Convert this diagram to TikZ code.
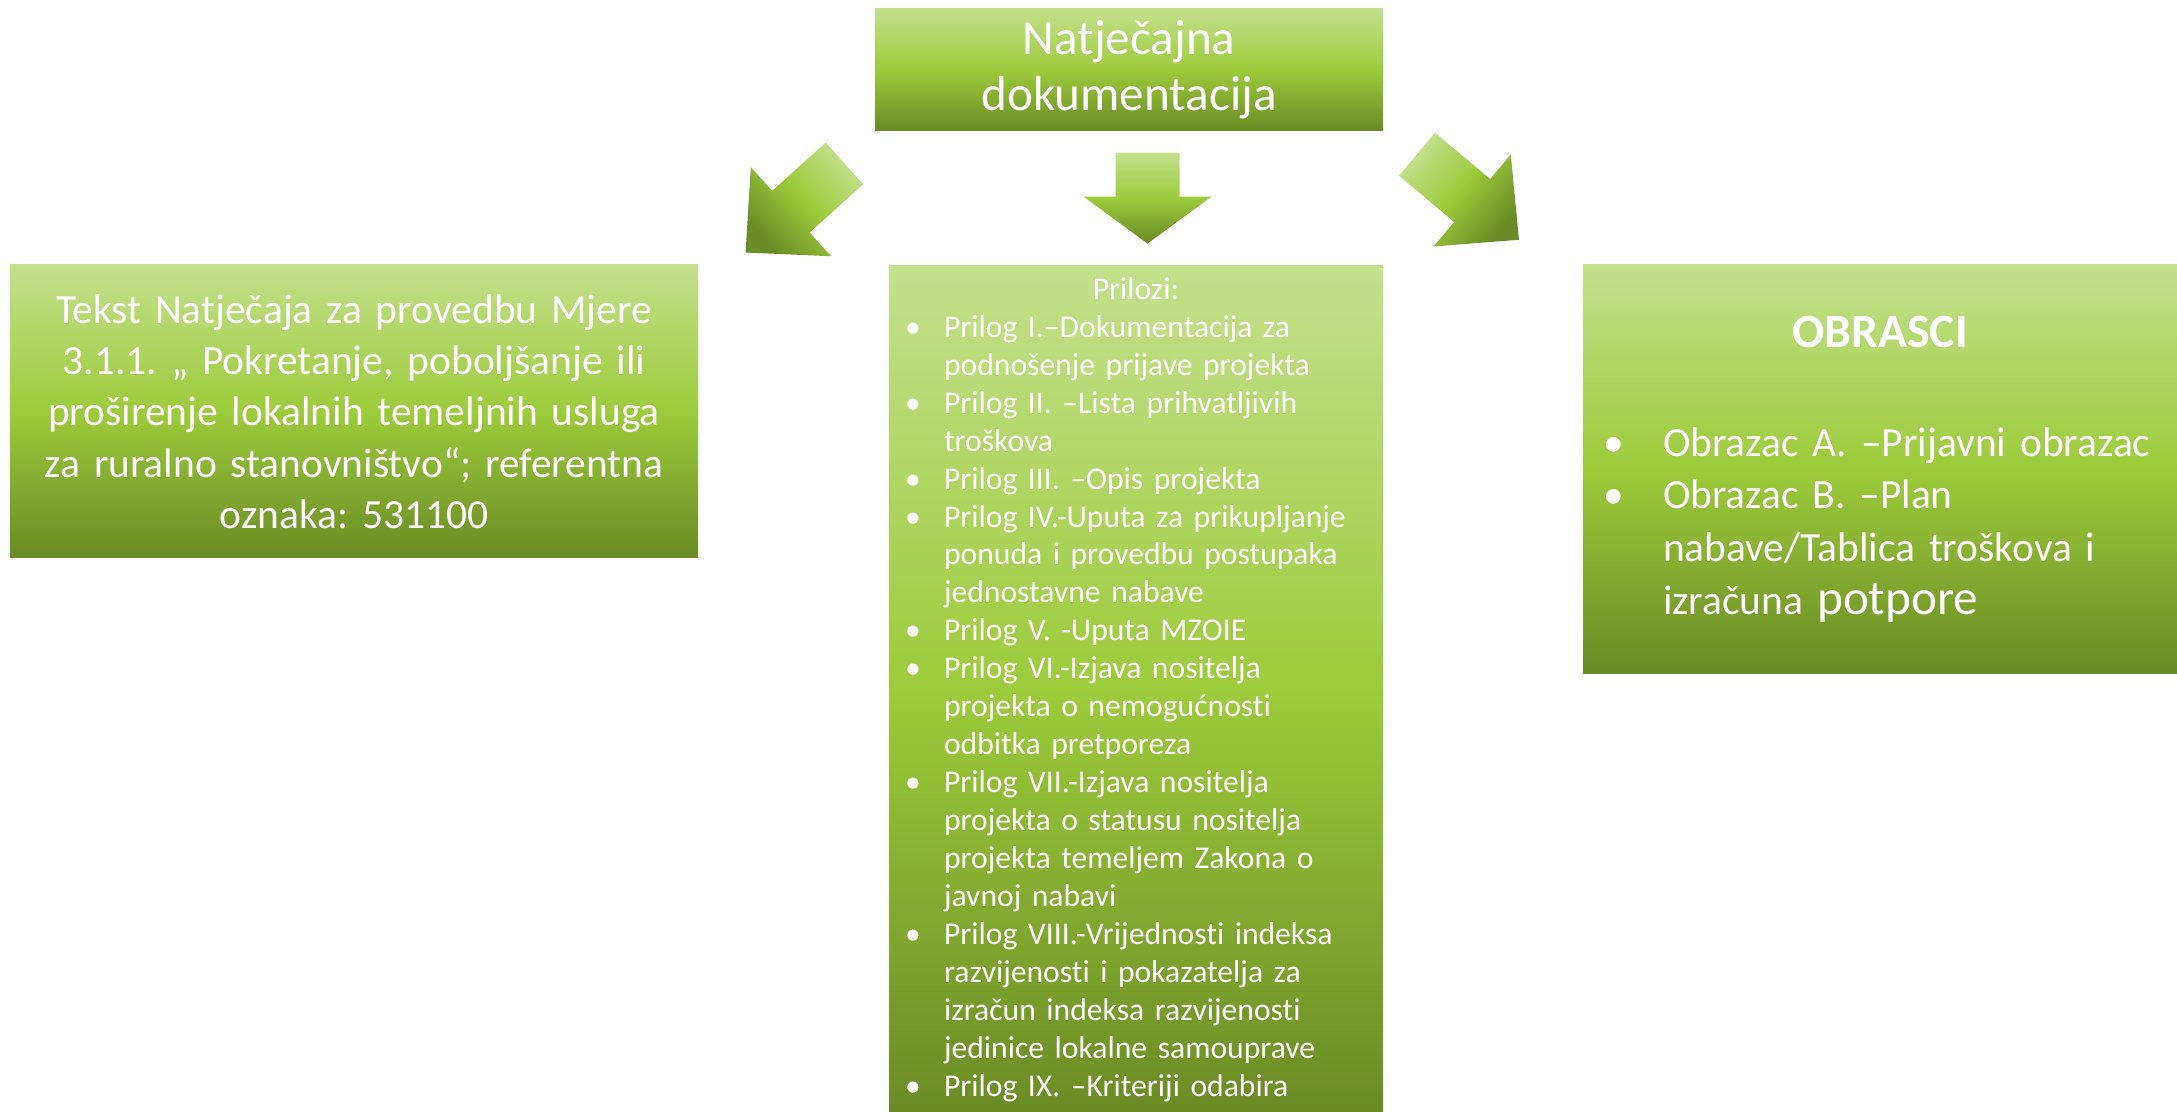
\documentclass[tikz,border=0pt]{standalone}
\usepackage{fontspec}
\setmainfont{Carlito}[Ligatures=NoCommon]
\usepackage{xcolor}
\usepackage{tikz}
\usetikzlibrary{calc}

\definecolor{leafhi}{HTML}{C3E08C}
\definecolor{leafmid}{HTML}{9CCB3B}
\definecolor{leafdk}{HTML}{6A8B25}

\newenvironment{bulletlist}[1]{\begin{list}{\textbullet}{\setlength{\leftmargin}{#1}\setlength{\labelwidth}{#1}\setlength{\labelsep}{0pt}\setlength{\itemsep}{0pt}\setlength{\parsep}{0pt}\setlength{\topsep}{0pt}\setlength{\partopsep}{0pt}\renewcommand{\makelabel}[1]{##1\hfil}}}{\end{list}}
\frenchspacing

\begin{document}
\begin{tikzpicture}[
    greenbox/.style={top color=leafhi, bottom color=leafdk, middle color=leafmid, text=white},
    arrowfill/.style={top color=leafhi, bottom color=leafdk, middle color=leafmid}
  ]
    \useasboundingbox (0,0) rectangle (21.77,11.11);
    \clip (0,0) rectangle (21.77,11.11);
    % boxes
    \node[greenbox, minimum width=5.08cm, minimum height=1.17cm, align=center, font=\fontsize{14}{16}\selectfont] (natjecaj) at (11.29,10.415) {Natječajna\\dokumentacija};
    \node[greenbox, minimum width=6.88cm, minimum height=2.93cm, text width=6.4cm, align=center, font=\fontsize{11.8}{14.6}\selectfont] (tekst) at (3.54,6.995) {Tekst Natječaja za provedbu Mjere\\3.1.1. „ Pokretanje, poboljšanje ili\\proširenje lokalnih temeljnih usluga\\za ruralno stanovništvo“; referentna\\oznaka: 531100};
    \node[greenbox, anchor=north, minimum width=4.94cm, minimum height=8.46cm, inner xsep=0.16cm, inner ysep=3.3pt, text width=4.62cm, align=left, font=\fontsize{9}{10.8}\selectfont] (prilozi) at (11.36,8.46) {{\centering Prilozi:\par}
      \begin{bulletlist}{0.39cm}
      \item Prilog I.–Dokumentacija za\\podnošenje prijave projekta
      \item Prilog II. –Lista prihvatljivih\\troškova
      \item Prilog III. –Opis projekta
      \item Prilog IV.-Uputa za prikupljanje\\ponuda i provedbu postupaka\\jednostavne nabave
      \item Prilog V. -Uputa MZOIE
      \item Prilog VI.-Izjava nositelja\\projekta o nemogućnosti\\odbitka pretporeza
      \item Prilog VII.-Izjava nositelja\\projekta o statusu nositelja\\projekta temeljem Zakona o\\javnoj nabavi
      \item Prilog VIII.-Vrijednosti indeksa\\razvijenosti i pokazatelja za\\izračun indeksa razvijenosti\\jedinice lokalne samouprave
      \item Prilog IX. –Kriteriji odabira
      \end{bulletlist}};
    \node[greenbox, minimum width=5.94cm, minimum height=4.08cm, inner xsep=0.2cm, text width=5.54cm, align=left, font=\fontsize{11.8}{15}\selectfont] (obrasci) at (18.80,6.42) {{\centering\fontsize{13.6}{16}\selectfont\bfseries OBRASCI\par}
      \vspace{16pt}
      \begin{bulletlist}{0.6cm}
      \item Obrazac A. –Prijavni obrazac
      \item Obrazac B. –Plan\\nabave/Tablica troškova i\\izračuna {\fontsize{14}{15}\selectfont potpore}
      \end{bulletlist}};
    % block arrows
    \coordinate (arrL) at (7.95,9.03);
    \coordinate (arrC) at ($(natjecaj.south)!0.5!(prilozi.north)$);
    \coordinate (arrR) at (14.68,9.14);
    \begin{scope}[shift={(arrL)}, rotate=222]
      \path[arrowfill, shading angle=-48] (-0.665,0.28) -- (0.055,0.28) -- (0.055,0.6) -- (0.665,0) -- (0.055,-0.6) -- (0.055,-0.28) -- (-0.665,-0.28) -- cycle;
    \end{scope}
    \begin{scope}[shift={(arrC)}, xshift=0.15cm, rotate=-90]
      \path[arrowfill] (-0.455,0.32) -- (-0.015,0.32) -- (-0.015,0.64) -- (0.455,0) -- (-0.015,-0.64) -- (-0.015,-0.32) -- (-0.455,-0.32) -- cycle;
    \end{scope}
    \begin{scope}[shift={(arrR)}, rotate=-40]
      \path[arrowfill, shading angle=50] (-0.665,0.28) -- (0.055,0.28) -- (0.055,0.6) -- (0.665,0) -- (0.055,-0.6) -- (0.055,-0.28) -- (-0.665,-0.28) -- cycle;
    \end{scope}
\end{tikzpicture}
\end{document}
